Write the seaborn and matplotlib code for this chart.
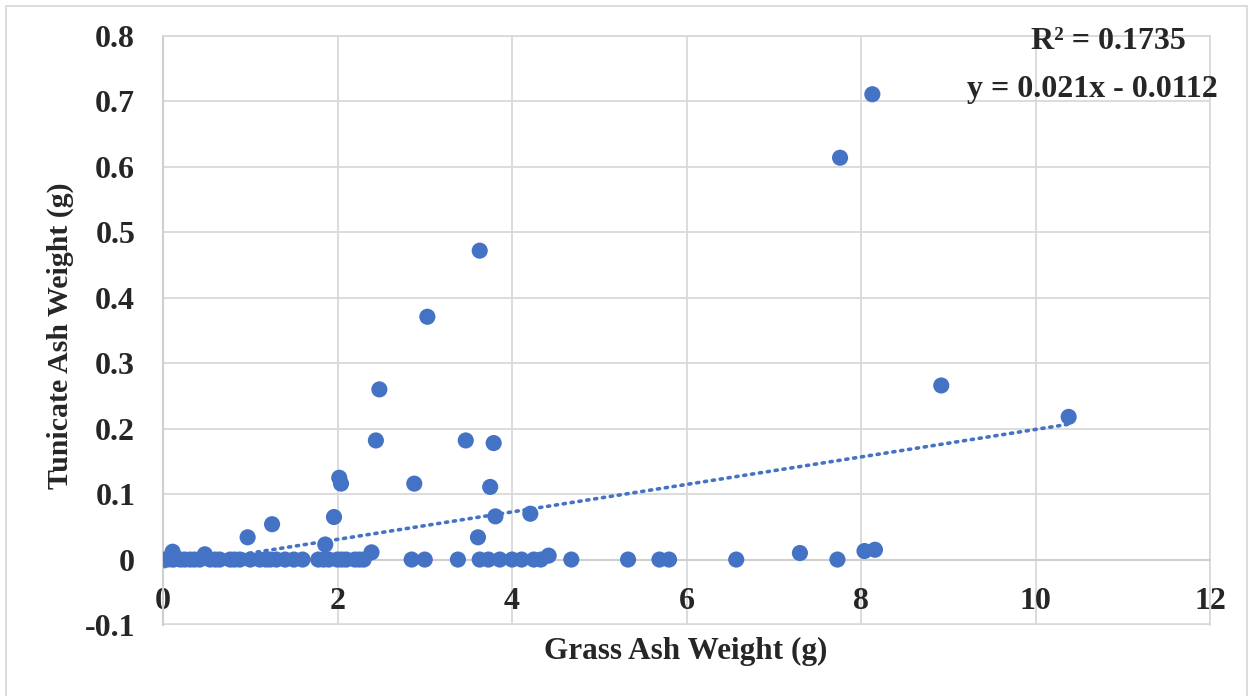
import matplotlib
matplotlib.use("Agg")
import matplotlib.pyplot as plt
import seaborn as sns
import numpy as np
import pandas as pd
from matplotlib.patches import Rectangle

# Data
grassAsh = [
    8.13, 7.76, 3.63, 3.03, 8.92, 2.48, 10.38, 2.44, 3.47, 3.79,
    2.02, 2.04, 2.88, 3.75, 3.81, 1.96, 4.21, 1.25, 0.97, 3.61,
    1.86, 0.11, 0.48, 2.39, 4.42, 7.30, 8.04, 8.16,
    0.00, 0.05, 0.12, 0.20, 0.25, 0.31, 0.36, 0.42, 0.54, 0.60,
    0.65, 0.77, 0.82, 0.88, 1.00, 1.11, 1.18, 1.23, 1.30, 1.40,
    1.50, 1.60, 1.78, 1.84, 1.90, 2.00, 2.05, 2.10, 2.20, 2.25,
    2.30, 2.85, 3.00, 3.38, 3.63, 3.73, 3.86, 4.00, 4.11, 4.25,
    4.33, 4.68, 5.33, 5.69, 5.80, 6.57, 7.73,
]
tunicateAsh = [
    0.711, 0.614, 0.472, 0.371, 0.266, 0.260, 0.218, 0.182, 0.182, 0.178,
    0.125, 0.116, 0.116, 0.111, 0.066, 0.065, 0.070, 0.054, 0.034, 0.034,
    0.023, 0.012, 0.008, 0.011, 0.006, 0.010, 0.013, 0.015,
    0, 0, 0, 0, 0, 0, 0, 0, 0, 0,
    0, 0, 0, 0, 0, 0, 0, 0, 0, 0,
    0, 0, 0, 0, 0, 0, 0, 0, 0, 0,
    0, 0, 0, 0, 0, 0, 0, 0, 0, 0,
    0, 0, 0, 0, 0, 0, 0,
]
trendSlope = 0.021
trendIntercept = -0.0112
rSquared = 0.1735

xTicks = [0, 2, 4, 6, 8, 10, 12]
yTicks = [-0.1, 0, 0.1, 0.2, 0.3, 0.4, 0.5, 0.6, 0.7, 0.8]
yTickLabels = ["-0.1", "0", "0.1", "0.2", "0.3", "0.4", "0.5", "0.6", "0.7", "0.8"]

df = pd.DataFrame({"grass": grassAsh, "tunicate": tunicateAsh})

sns.set_style("white")
plt.rcParams["font.family"] = ["Liberation Serif", "DejaVu Serif"]
plt.rcParams["font.weight"] = "bold"

blue = "#4472C4"
gridGray = "#D9D9D9"
axisGray = "#CFCFCF"

fig = plt.figure(figsize=(12.53, 6.96), dpi=100)
ax = fig.add_axes([163 / 1253, 1 - 625 / 696, (1210 - 163) / 1253, (625 - 36) / 696])

# trendline (dotted), behind markers
trendX = np.array([min(grassAsh), max(grassAsh)])
ax.plot(trendX, trendSlope * trendX + trendIntercept, color=blue, linestyle=(0, (0.6, 1.6)),
        linewidth=2.6, dash_capstyle="round", zorder=2)

sns.scatterplot(data=df, x="grass", y="tunicate", ax=ax, color=blue, s=135,
                edgecolor="none", linewidth=0, zorder=3, legend=False)

ax.set_xlim(0, 12)
ax.set_ylim(-0.1, 0.8)
ax.set_xticks(xTicks)
ax.set_yticks(yTicks)
ax.set_yticklabels(yTickLabels)
ax.grid(True, color=gridGray, linewidth=1.3, zorder=0)
ax.set_axisbelow(True)

for side in ["top", "right"]:
    ax.spines[side].set_color(gridGray)
    ax.spines[side].set_linewidth(1.3)
ax.spines["left"].set_color(axisGray)
ax.spines["left"].set_linewidth(1.5)
ax.spines["bottom"].set_position(("data", 0))
ax.spines["bottom"].set_color(axisGray)
ax.spines["bottom"].set_linewidth(1.5)
ax.axhline(-0.1, color=gridGray, linewidth=2.6, zorder=0)

ax.tick_params(axis="both", length=0, labelsize=23)
ax.tick_params(axis="x", pad=20)
ax.tick_params(axis="y", pad=20)
for lab in ax.get_xticklabels() + ax.get_yticklabels():
    lab.set_fontweight("bold")

ax.set_xlabel("")
ax.set_ylabel("")
fig.text(686 / 1253, 1 - 651 / 696, "Grass Ash Weight (g)", ha="center", va="center",
         fontsize=22.5, fontweight="bold")
fig.text(60 / 1253, 1 - 336 / 696, "Tunicate Ash Weight (g)", ha="center", va="center",
         rotation=90, fontsize=21.5, fontweight="bold")

ax.text(10.83, 0.791, f"R² = {rSquared}", ha="center", va="center", fontsize=23,
        fontweight="bold", zorder=5)
ax.text(10.65, 0.718, f"y = {trendSlope}x - {abs(trendIntercept)}", ha="center", va="center",
        fontsize=23, fontweight="bold", zorder=5)

fig.patches.append(Rectangle((6 / 1253, -10 / 696), 1241 / 1253, 700 / 696, transform=fig.transFigure,
                             fill=False, edgecolor=gridGray, linewidth=1.3))

fig.savefig("out.png", dpi=100)
plt.close(fig)
